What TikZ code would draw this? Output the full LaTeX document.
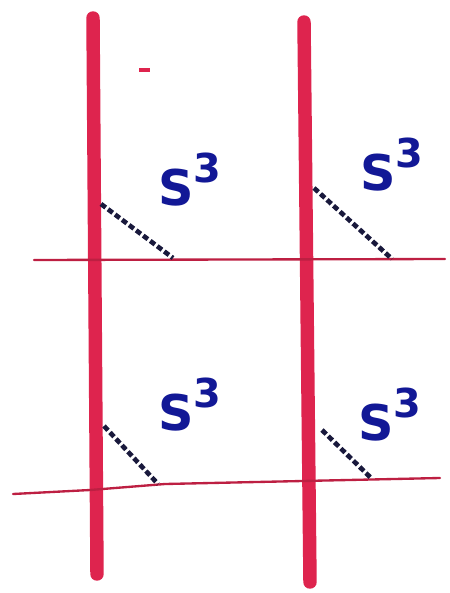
\documentclass[tikz,border=0pt]{standalone}
\usepackage{fontspec}
\setmainfont{DejaVu Sans}
\definecolor{inkred}{RGB}{222,36,78}
\definecolor{inkblue}{RGB}{18,24,150}
\definecolor{inkdark}{RGB}{25,25,60}
\tikzset{
  sheet/.style={draw=inkred,line width=11.5pt,line cap=round},
  thread/.style={draw=inkred!85!black,line width=2pt,line cap=round},
  chord/.style={draw=inkdark,line width=4pt,dash pattern=on 5pt off 2.5pt},
  sphere/.style={text=inkblue,font=\fontsize{42}{46}\selectfont\bfseries,inner sep=0pt,anchor=base west}
}
\begin{document}
\begin{tikzpicture}[x=0.03cm,y=-0.03cm]
\useasboundingbox (0,0) rectangle (449,593);
% vertical sheets
\coordinate (L1) at (93,18); \coordinate (L2) at (97,574);
\coordinate (R1) at (304,22); \coordinate (R2) at (310,582);
\draw[sheet] (L1) -- (L2);
\draw[sheet] (R1) -- (R2);
% horizontal threads
\coordinate (T1) at (34,260); \coordinate (T2) at (445,259);
\coordinate (B1) at (13,494); \coordinate (Bm) at (165,484); \coordinate (B2) at (440,478);
\draw[thread] (T1) -- (T2);
\draw[thread] (B1) -- (90,490) -- (Bm) -- (B2);
% small mark
\coordinate (m1) at (139,70); \coordinate (m2) at (150,70);
\draw[draw=inkred,line width=4pt] (m1) -- (m2);
% dashed chords
\coordinate (a1) at (101,204); \coordinate (a2) at (173,258);
\coordinate (b1) at (314,188); \coordinate (b2) at (392,259);
\coordinate (c1) at (104,426); \coordinate (c2) at (158,484);
\coordinate (d1) at (322,430); \coordinate (d2) at (371,478);
\draw[chord] (a1) -- (a2);
\draw[chord] (b1) -- (b2);
\draw[chord] (c1) -- (c2);
\draw[chord] (d1) -- (d2);
% labels
\node[sphere] (s1) at (158,205) {S\raisebox{0.45em}{\fontsize{34}{36}\selectfont 3}};
\node[sphere] (s2) at (360,190) {S\raisebox{0.45em}{\fontsize{34}{36}\selectfont 3}};
\node[sphere] (s3) at (158,430) {S\raisebox{0.45em}{\fontsize{34}{36}\selectfont 3}};
\node[sphere] (s4) at (358,440) {S\raisebox{0.45em}{\fontsize{34}{36}\selectfont 3}};
\end{tikzpicture}
\end{document}
